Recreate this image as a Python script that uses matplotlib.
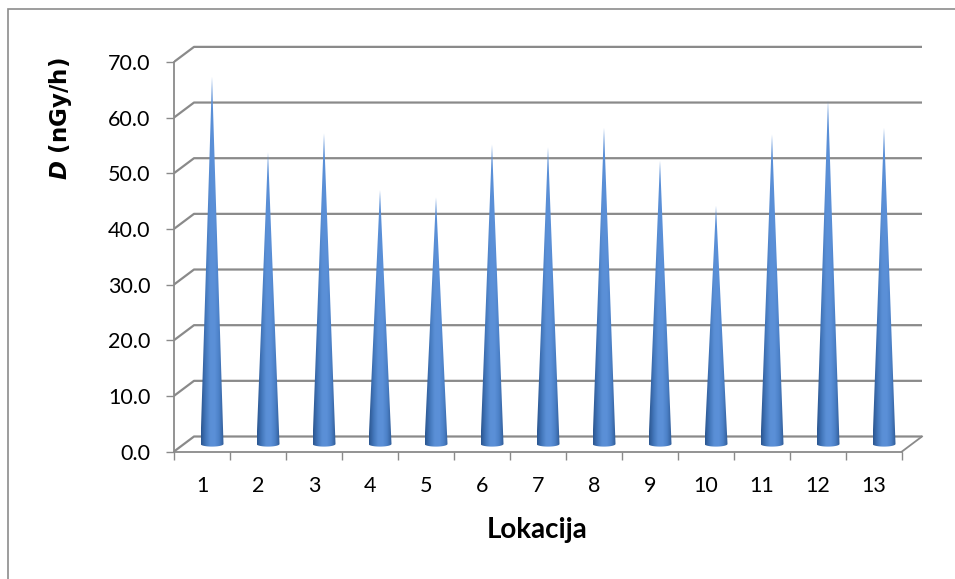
import numpy as np
import matplotlib
matplotlib.use("Agg")
import matplotlib.pyplot as plt
from matplotlib.patches import Polygon, Rectangle
from matplotlib.colors import LinearSegmentedColormap

# ---- data ----
categories = ["1", "2", "3", "4", "5", "6", "7", "8", "9", "10", "11", "12", "13"]
values = [66.0, 52.4, 55.8, 45.6, 44.3, 53.8, 53.3, 56.8, 50.9, 42.8, 55.6, 61.7, 56.8]
y_ticks = [0, 10, 20, 30, 40, 50, 60, 70]
y_tick_labels = ["0.0", "10.0", "20.0", "30.0", "40.0", "50.0", "60.0", "70.0"]
x_title = "Lokacija"
y_title = r"$\bfit{D}$ (nGy/h)"

W, H = 955, 579
fig = plt.figure(figsize=(W / 100, H / 100), dpi=100)

# pixel geometry of the 3D frame
px_left, px_right = 174, 930
px_top, px_bottom = 40, 460
px_per_x = 56.0
px_per_y = 5.566
zero_px = 451.5

ax = fig.add_axes([px_left / W, 1 - px_bottom / H,
                   (px_right - px_left) / W, (px_bottom - px_top) / H])
x0 = 0.5
xmax = x0 + (px_right - px_left) / px_per_x
ymin = -(px_bottom - zero_px) / px_per_y
ymax = (zero_px - px_top) / px_per_y

DX = 20 / px_per_x      # depth offset (x)
DY = 15 / px_per_y      # depth offset (y)
n = len(categories)
xs = np.arange(1, n + 1)

grid_col = "#8a8a8a"

# back wall gridlines with diagonal connectors
for t in y_ticks:
    ax.plot([x0, x0 + DX, x0 + n + DX], [t, t + DY, t + DY],
            color=grid_col, lw=1.6, solid_capstyle="butt", zorder=1)

# front floor edge right diagonal
ax.plot([x0 + n, x0 + n + DX], [0, DY], color=grid_col, lw=1.3, zorder=1)

# cones
cmap = LinearSegmentedColormap.from_list(
    "cone", ["#2b5690", "#4377bb", "#5a8fd6", "#5b90d8", "#4b80c6", "#2f5b96"])
grad = np.linspace(0, 1, 64).reshape(1, -1)
hw = 11.5 / px_per_x
eh = 2.6 / px_per_y
yb = DY / 2
for x, v in zip(xs, values):
    xc = x + DX / 2
    t = np.linspace(0, np.pi, 30)
    arc = np.column_stack([xc + hw * np.cos(t), yb - eh * np.sin(t)])
    pts = np.vstack([[xc - hw, yb], [xc, yb + v], [xc + hw, yb], arc])
    poly = Polygon(pts, closed=True, facecolor="none", edgecolor="none")
    ax.add_patch(poly)
    im = ax.imshow(grad, cmap=cmap, extent=[xc - hw, xc + hw, yb - eh, yb + v],
                   aspect="auto", zorder=3, interpolation="bilinear")
    im.set_clip_path(poly)

ax.set_xlim(x0, xmax)
ax.set_ylim(ymin, ymax)
ax.set_facecolor("none")

# spines as the front axes
for s in ["top", "right"]:
    ax.spines[s].set_visible(False)
ax.spines["left"].set_bounds(0, 70)
ax.spines["left"].set_color(grid_col)
ax.spines["left"].set_linewidth(1.3)
ax.spines["left"].set_zorder(4)
ax.spines["bottom"].set_position(("data", 0))
ax.spines["bottom"].set_bounds(x0, x0 + n)
ax.spines["bottom"].set_color(grid_col)
ax.spines["bottom"].set_linewidth(1.3)
ax.spines["bottom"].set_zorder(4)

tick_font = dict(family="Lato", size=15.5)
ax.set_yticks(y_ticks)
ax.set_yticklabels(y_tick_labels, **tick_font)
ax.tick_params(axis="y", length=5.8, width=1.0, color=grid_col, pad=11)

ax.set_xticks(xs)
ax.set_xticklabels(categories, **tick_font)
ax.set_xticks(np.arange(x0, x0 + n + 0.01, 1), minor=True)
ax.tick_params(axis="x", which="major", length=0, pad=18)
ax.tick_params(axis="x", which="minor", length=5.8, width=1.0, color=grid_col)

# axis titles
fig.text(60 / W, 1 - 119 / H, y_title, rotation=90, ha="center", va="center",
         family="DejaVu Sans", fontweight="bold", fontsize=16.5)
fig.text(537.5 / W, 1 - 530 / H, x_title, ha="center", va="center",
         family="Lato", fontweight="bold", fontsize=20)

# chart border
fig.patches.append(Rectangle((8 / W, -0.1), 1.2, 1 - 9.5 / H + 0.1,
                             transform=fig.transFigure, fill=False,
                             edgecolor="#8c8c8c", lw=1.2))

fig.savefig("out.png", dpi=100)
